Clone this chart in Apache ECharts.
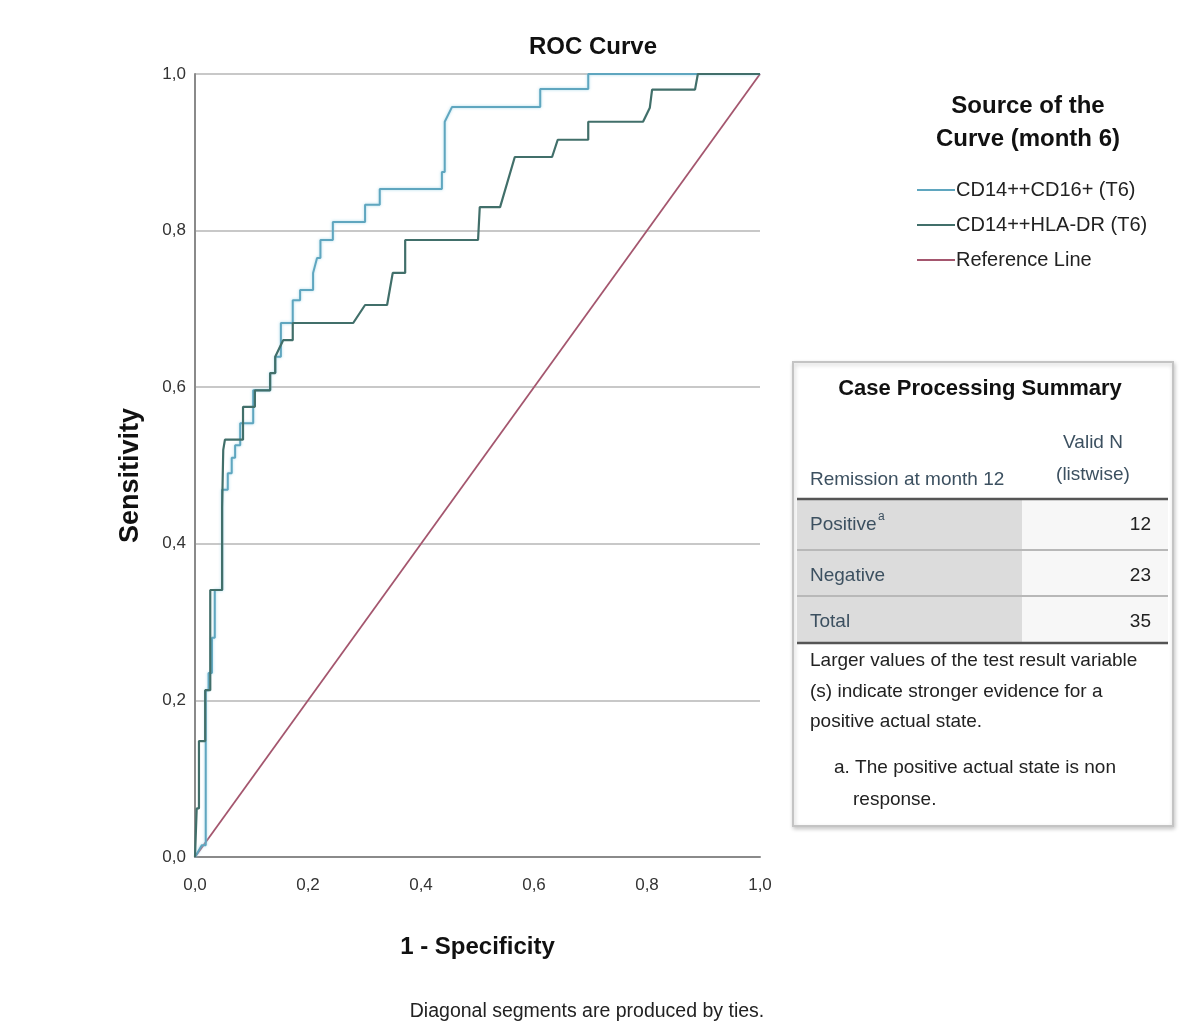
<!DOCTYPE html>
<html>
<head>
<meta charset="utf-8">
<script src="https://cdn.jsdelivr.net/npm/echarts@6/dist/echarts.min.js"></script>
<style>
html,body{margin:0;padding:0;background:#fff;}
#chart{width:1186px;height:1025px;}
</style>
</head>
<body>
<div id="chart"></div>
<script>
// ---- data ----
var xTicks = [0, 0.2, 0.4, 0.6, 0.8, 1.0];
var yTicks = [0, 0.2, 0.4, 0.6, 0.8, 1.0];

// CD14++CD16+ (T6): 1 - specificity / sensitivity
var cd16X = [0, 0.012, 0.019, 0.019, 0.024, 0.024, 0.030, 0.030, 0.035, 0.035, 0.048, 0.048, 0.058, 0.058, 0.065, 0.065, 0.071, 0.071, 0.080, 0.080, 0.103, 0.103, 0.110, 0.133, 0.133, 0.142, 0.142, 0.152, 0.152, 0.173, 0.173, 0.186, 0.186, 0.209, 0.209, 0.216, 0.222, 0.222, 0.244, 0.244, 0.301, 0.301, 0.327, 0.327, 0.437, 0.437, 0.442, 0.442, 0.455, 0.611, 0.611, 0.696, 0.696, 1.0];
var cd16Y = [0, 0.015, 0.015, 0.213, 0.213, 0.235, 0.235, 0.280, 0.280, 0.341, 0.341, 0.469, 0.469, 0.490, 0.490, 0.510, 0.510, 0.526, 0.526, 0.554, 0.554, 0.596, 0.596, 0.596, 0.618, 0.618, 0.639, 0.639, 0.682, 0.682, 0.711, 0.711, 0.724, 0.724, 0.746, 0.765, 0.765, 0.788, 0.788, 0.811, 0.811, 0.833, 0.833, 0.853, 0.853, 0.875, 0.875, 0.939, 0.958, 0.958, 0.981, 0.981, 1.0, 1.0];

// CD14++HLA-DR (T6)
var hlaX = [0, 0.003, 0.007, 0.007, 0.018, 0.018, 0.027, 0.027, 0.048, 0.048, 0.050, 0.053, 0.085, 0.085, 0.106, 0.106, 0.133, 0.133, 0.142, 0.142, 0.156, 0.173, 0.173, 0.280, 0.301, 0.340, 0.350, 0.372, 0.372, 0.501, 0.504, 0.540, 0.566, 0.632, 0.642, 0.696, 0.696, 0.793, 0.805, 0.809, 0.885, 0.890, 1.0];
var hlaY = [0, 0.062, 0.062, 0.148, 0.148, 0.213, 0.213, 0.341, 0.341, 0.446, 0.520, 0.533, 0.533, 0.575, 0.575, 0.596, 0.596, 0.618, 0.618, 0.639, 0.660, 0.660, 0.682, 0.682, 0.705, 0.705, 0.746, 0.746, 0.788, 0.788, 0.830, 0.830, 0.894, 0.894, 0.916, 0.916, 0.939, 0.939, 0.957, 0.980, 0.980, 1.0, 1.0];

var refX = [0, 1];
var refY = [0, 1];

var seriesNames = ['CD14++CD16+ (T6)', 'CD14++HLA-DR (T6)', 'Reference Line'];

function zip(xs, ys) { return xs.map(function (x, i) { return [x, ys[i]]; }); }
function fmt(v) { return v.toFixed(1).replace('.', ','); }

var FONT = "'Liberation Sans', Arial, sans-serif";

var chart = echarts.init(document.getElementById('chart'), null, {renderer: 'canvas'});

// table pieces
var tbl = [];
var tx = 793, ty = 362;
tbl.push({type: 'rect', shape: {x: tx, y: ty, width: 380, height: 464}, style: {fill: '#fff', stroke: '#c4c4c4', lineWidth: 2, shadowBlur: 4, shadowColor: 'rgba(0,0,0,0.2)', shadowOffsetX: 1, shadowOffsetY: 2}});
tbl.push({type: 'text', x: 980, y: 389, style: {text: 'Case Processing Summary', font: 'bold 22px ' + FONT, fill: '#111', textAlign: 'center', textVerticalAlign: 'middle'}});
tbl.push({type: 'text', x: 1093, y: 443, style: {text: 'Valid N', font: '19px ' + FONT, fill: '#3c5060', textAlign: 'center', textVerticalAlign: 'middle'}});
tbl.push({type: 'text', x: 1093, y: 475, style: {text: '(listwise)', font: '19px ' + FONT, fill: '#3c5060', textAlign: 'center', textVerticalAlign: 'middle'}});
tbl.push({type: 'text', x: 810, y: 480, style: {text: 'Remission at month 12', font: '19px ' + FONT, fill: '#3c5060', textAlign: 'left', textVerticalAlign: 'middle'}});
// row backgrounds
tbl.push({type: 'rect', shape: {x: 797, y: 500, width: 225, height: 142}, style: {fill: '#dcdcdc'}});
tbl.push({type: 'rect', shape: {x: 1022, y: 500, width: 146, height: 142}, style: {fill: '#f7f7f7'}});
tbl.push({type: 'line', shape: {x1: 797, y1: 499, x2: 1168, y2: 499}, style: {stroke: '#555', lineWidth: 2.5}});
tbl.push({type: 'line', shape: {x1: 797, y1: 550, x2: 1168, y2: 550}, style: {stroke: '#b8b8b8', lineWidth: 2}});
tbl.push({type: 'line', shape: {x1: 797, y1: 596, x2: 1168, y2: 596}, style: {stroke: '#b8b8b8', lineWidth: 2}});
tbl.push({type: 'line', shape: {x1: 797, y1: 643, x2: 1168, y2: 643}, style: {stroke: '#555', lineWidth: 2.5}});
var rowNames = ['Positive', 'Negative', 'Total'];
var rowVals = ['12', '23', '35'];
var rowY = [525, 576, 622];
rowNames.forEach(function (n, i) {
  tbl.push({type: 'text', x: 810, y: rowY[i], style: {text: n, font: '19px ' + FONT, fill: '#3c5060', textAlign: 'left', textVerticalAlign: 'middle'}});
  tbl.push({type: 'text', x: 1151, y: rowY[i], style: {text: rowVals[i], font: '19px ' + FONT, fill: '#222', textAlign: 'right', textVerticalAlign: 'middle'}});
});
tbl.push({type: 'text', x: 878, y: 517, style: {text: 'a', font: '12px ' + FONT, fill: '#3c5060', textAlign: 'left', textVerticalAlign: 'middle'}});
var notes = [
  ['Larger values of the test result variable', 810, 661],
  ['(s) indicate stronger evidence for a', 810, 692],
  ['positive actual state.', 810, 722],
  ['a. The positive actual state is non', 834, 768],
  ['response.', 853, 800]
];
notes.forEach(function (n) {
  tbl.push({type: 'text', x: n[1], y: n[2], style: {text: n[0], font: '19px ' + FONT, fill: '#222', textAlign: 'left', textVerticalAlign: 'middle'}});
});
tbl.push({type: 'text', x: 587, y: 1012, style: {text: 'Diagonal segments are produced by ties.', font: '19.5px ' + FONT, fill: '#222', textAlign: 'center', textVerticalAlign: 'middle'}});

var option = {
  backgroundColor: '#ffffff',
  animation: false,
  title: [
    {text: 'ROC Curve', left: 588, top: 30, textAlign: 'center',
     textStyle: {fontFamily: FONT, fontSize: 24, fontWeight: 'bold', color: '#111'}},
    {text: 'Source of the\nCurve (month 6)', left: 1023, top: 85, textAlign: 'center',
     textStyle: {fontFamily: FONT, fontSize: 24, fontWeight: 'bold', color: '#111', lineHeight: 33}}
  ],
  legend: {
    orient: 'vertical', left: 912, top: 174,
    icon: 'rect', itemWidth: 38, itemHeight: 2, itemGap: 13,
    data: seriesNames,
    textStyle: {fontFamily: FONT, fontSize: 20, color: '#222', padding: [0, 0, 0, -4], lineHeight: 22}
  },
  grid: {left: 195, right: 426, top: 74, bottom: 168, containLabel: false},
  xAxis: {
    type: 'value', min: 0, max: 1, interval: 0.2,
    name: '1 - Specificity', nameLocation: 'middle', nameGap: 78,
    nameTextStyle: {fontFamily: FONT, fontSize: 24, fontWeight: 'bold', color: '#111'},
    axisLine: {show: true, lineStyle: {color: '#8a8a8a', width: 2}},
    axisTick: {show: false},
    splitLine: {show: false},
    axisLabel: {formatter: fmt, margin: 20, fontFamily: FONT, fontSize: 17, color: '#333'}
  },
  yAxis: {
    type: 'value', min: 0, max: 1, interval: 0.2,
    name: 'Sensitivity', nameLocation: 'middle', nameGap: 51,
    nameTextStyle: {fontFamily: FONT, fontSize: 27, fontWeight: 'bold', color: '#111', padding: [0, 20, 0, 0]},
    axisLine: {show: true, lineStyle: {color: '#8a8a8a', width: 2}},
    axisTick: {show: false},
    splitLine: {show: true, lineStyle: {color: '#c8c8c8', width: 2}},
    axisLabel: {formatter: fmt, margin: 9, fontFamily: FONT, fontSize: 17, color: '#333'}
  },
  series: [
    {name: seriesNames[0], type: 'line', data: zip(cd16X, cd16Y), showSymbol: false, symbol: 'none',
     lineStyle: {color: '#5fa6bf', width: 2, shadowColor: 'rgba(150,210,230,0.8)', shadowBlur: 3}, itemStyle: {color: '#5fa6bf'}, z: 3},
    {name: seriesNames[1], type: 'line', data: zip(hlaX, hlaY), showSymbol: false, symbol: 'none',
     lineStyle: {color: '#416f6a', width: 2.2}, itemStyle: {color: '#416f6a'}, z: 4},
    {name: seriesNames[2], type: 'line', data: zip(refX, refY), showSymbol: false, symbol: 'none',
     lineStyle: {color: '#a4566e', width: 1.8}, itemStyle: {color: '#a4566e'}, z: 2}
  ],
  graphic: tbl
};
chart.setOption(option);
</script>
</body>
</html>
